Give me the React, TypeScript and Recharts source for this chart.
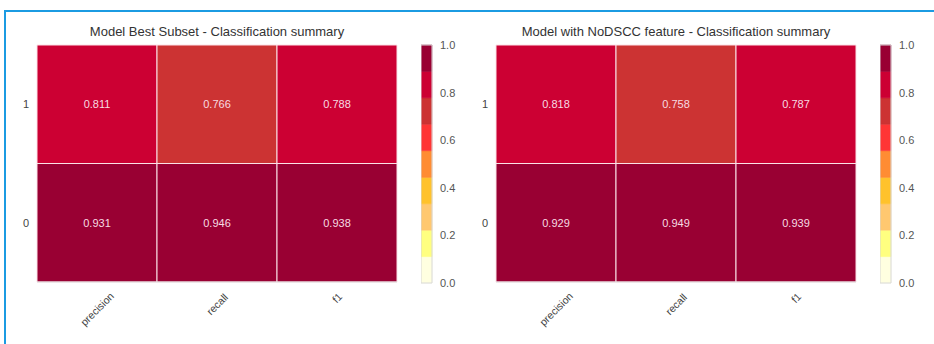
import { BarChart, Bar, Cell, LabelList, XAxis, YAxis, ReferenceArea } from "recharts";

// metrics along the x axis, classes stacked bottom -> top
const metrics = ["precision", "recall", "f1"];
const classes = ["0", "1"];

// scores per class, in metric order
const bestSubsetClass0 = [0.931, 0.946, 0.938];
const bestSubsetClass1 = [0.811, 0.766, 0.788];
const noDsccClass0 = [0.929, 0.949, 0.939];
const noDsccClass1 = [0.818, 0.758, 0.787];

// colorbar: 9 discrete YlOrRd levels between these edges
const levelEdges = [0, 0.111, 0.222, 0.333, 0.444, 0.556, 0.667, 0.778, 0.889, 1];
const levelColors = [
  "#ffffe0",
  "#ffff80",
  "#ffc870",
  "#ffc22c",
  "#ff8c33",
  "#ff3535",
  "#cc3333",
  "#cc0033",
  "#990033",
];
const colorbarTicks = [0, 0.2, 0.4, 0.6, 0.8, 1];

const FONT = '"Liberation Sans", Arial, sans-serif';

function colorFor(v: number) {
  for (let i = 0; i < levelColors.length; i++) {
    if (v < levelEdges[i + 1]) return levelColors[i];
  }
  return levelColors[levelColors.length - 1];
}

function RotatedTick(props: any) {
  const { x, y, payload } = props;
  const label = String(payload.value);
  const w = label.length * 4.5;
  const h = (w + 10) * 0.707;
  return (
    <g transform={`translate(${x},${y + 1 + h / 2})`}>
      <text
        transform="rotate(-45)"
        textAnchor="middle"
        dominantBaseline="central"
        fontSize={10.5}
        fill="#444"
        fontFamily={FONT}
      >
        {label}
      </text>
    </g>
  );
}

interface PanelProps {
  left: number;
  title: string;
  class0: number[];
  class1: number[];
}

function Panel({ left, title, class0, class1 }: PanelProps) {
  const rows = metrics.map((m, i) => ({
    metric: m,
    span0: 1,
    span1: 1,
    score0: class0[i],
    score1: class1[i],
  }));

  return (
    <div style={{ position: "absolute", left, top: 0, width: 475, height: 344 }}>
      <div
        style={{
          position: "absolute",
          left: 37,
          width: 360,
          top: 24,
          textAlign: "center",
          fontFamily: FONT,
          fontSize: 13,
          color: "#333",
        }}
      >
        {title}
      </div>
      <div style={{ position: "absolute", left: 0, top: 0 }}>
        <BarChart
          width={400}
          height={344}
          data={rows}
          margin={{ top: 45, right: 3, bottom: 12, left: 7 }}
          barCategoryGap={0}
          barGap={0}
        >
          <XAxis
            dataKey="metric"
            height={50}
            tickLine={false}
            axisLine={{ stroke: "#dcdcdc" }}
            interval={0}
            tick={<RotatedTick />}
          />
          <YAxis
            type="number"
            domain={[0, 2]}
            ticks={[0.5, 1.5]}
            tickFormatter={(v: number) => classes[Math.floor(v)]}
            width={30}
            tickLine={false}
            axisLine={false}
            tick={{ fontSize: 11, fill: "#444", fontFamily: FONT }}
          />
          <Bar dataKey="span0" stackId="cls" isAnimationActive={false} stroke="#fbe1e7" strokeWidth={1}>
            {rows.map((r) => (
              <Cell key={r.metric} fill={colorFor(r.score0)} />
            ))}
            <LabelList
              dataKey="score0"
              position="center"
              formatter={(v: any) => Number(v).toFixed(3)}
              style={{ fontSize: 11, fill: "#f7dbe2", fontFamily: FONT }}
            />
          </Bar>
          <Bar dataKey="span1" stackId="cls" isAnimationActive={false} stroke="#fbe1e7" strokeWidth={1}>
            {rows.map((r) => (
              <Cell key={r.metric} fill={colorFor(r.score1)} />
            ))}
            <LabelList
              dataKey="score1"
              position="center"
              formatter={(v: any) => Number(v).toFixed(3)}
              style={{ fontSize: 11, fill: "#f7dbe2", fontFamily: FONT }}
            />
          </Bar>
        </BarChart>
      </div>
      <div style={{ position: "absolute", left: 421, top: 0 }}>
        <BarChart
          width={55}
          height={344}
          data={[{ name: "scale", top: 1 }]}
          margin={{ top: 45, right: 0, bottom: 61, left: 0 }}
          barCategoryGap={0}
        >
          <XAxis dataKey="name" hide />
          <YAxis
            orientation="right"
            type="number"
            domain={[0, 1]}
            ticks={colorbarTicks}
            tickFormatter={(v: number) => v.toFixed(1)}
            width={44}
            tickLine={false}
            axisLine={false}
            tick={{ fontSize: 11, fill: "#555", fontFamily: FONT }}
          />
          <Bar dataKey="top" fill="none" isAnimationActive={false} />
          {levelColors.map((c, i) => (
            <ReferenceArea
              key={c}
              y1={levelEdges[i]}
              y2={levelEdges[i + 1]}
              fill={c}
              fillOpacity={1}
              stroke={c}
              strokeWidth={0.6}
            />
          ))}
          <ReferenceArea y1={0} y2={1} fill="none" stroke="#d8d8d8" strokeWidth={1} />
        </BarChart>
      </div>
    </div>
  );
}

export default function App() {
  return (
    <div
      style={{
        position: "absolute",
        left: 0,
        top: 0,
        width: 934,
        height: 344,
        background: "#fff",
        overflow: "hidden",
      }}
    >
      <div
        style={{
          position: "absolute",
          left: 4,
          top: 10,
          width: 960,
          height: 400,
          borderTop: "2px solid #1b9be2",
          borderLeft: "2px solid #1b9be2",
        }}
      />
      <Panel
        left={0}
        title="Model Best Subset - Classification summary"
        class0={bestSubsetClass0}
        class1={bestSubsetClass1}
      />
      <Panel
        left={459}
        title="Model with NoDSCC feature - Classification summary"
        class0={noDsccClass0}
        class1={noDsccClass1}
      />
    </div>
  );
}
